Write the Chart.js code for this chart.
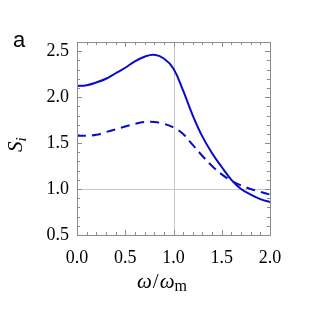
<!DOCTYPE html>
<html><head><meta charset="utf-8">
<script src="https://cdn.jsdelivr.net/npm/chart.js@4.4.0/dist/chart.umd.min.js"></script>
<style>html,body{margin:0;padding:0;background:#fff;}canvas{display:block;}</style>
</head><body>
<canvas id="c" width="313" height="313"></canvas>
<script>
const xValues = [0.0,0.1,0.2,0.3,0.4,0.5,0.6,0.7,0.8,0.9,1.0,1.1,1.2,1.3,1.4,1.5,1.6,1.7,1.8,1.9,2.0];
const solidS = [2.12,2.13,2.16,2.20,2.26,2.32,2.39,2.44,2.46,2.42,2.31,2.07,1.80,1.57,1.39,1.24,1.10,1.00,0.94,0.89,0.86];
const dashedS = [1.58,1.58,1.59,1.62,1.65,1.68,1.71,1.73,1.73,1.71,1.67,1.60,1.48,1.36,1.25,1.16,1.09,1.04,1.00,0.97,0.94];
const xTickLabels = [0.0,0.5,1.0,1.5,2.0];
const yTickLabels = [0.5,1.0,1.5,2.0,2.5];
const gridAt = {x:[1.0], y:[1.0]};

const pts = arr => arr.map((v,i)=>({x:xValues[i], y:v}));
const isMajor = v => Math.abs(v*2 - Math.round(v*2)) < 1e-6;
const tickFont = {family:"'Liberation Serif','Times New Roman',serif", size:18};

const framePlugin = {
  id:'frame',
  beforeDatasetsDraw(chart){
    const {ctx, chartArea:a, scales:{x,y}} = chart;
    ctx.save();
    ctx.strokeStyle = '#c8c8c8'; ctx.lineWidth = 1;
    gridAt.x.forEach(v=>{const p=Math.round(x.getPixelForValue(v))+0.5; ctx.beginPath(); ctx.moveTo(p,a.top); ctx.lineTo(p,a.bottom); ctx.stroke();});
    gridAt.y.forEach(v=>{const p=Math.round(y.getPixelForValue(v))+0.5; ctx.beginPath(); ctx.moveTo(a.left,p); ctx.lineTo(a.right,p); ctx.stroke();});
    ctx.restore();
  },
  afterDraw(chart){
    const {ctx, chartArea:a, scales:{x,y}} = chart;
    ctx.save();
    ctx.strokeStyle = '#8c8c8c'; ctx.lineWidth = 1;
    ctx.strokeRect(Math.round(a.left)+0.5, Math.round(a.top)+0.5, Math.round(a.right-a.left), Math.round(a.bottom-a.top));
    for(let i=0;i<=20;i++){
      const v=i/10, p=Math.round(x.getPixelForValue(v))+0.5, L=isMajor(v)?5:3;
      ctx.beginPath(); ctx.moveTo(p,a.bottom); ctx.lineTo(p,a.bottom-L); ctx.moveTo(p,a.top); ctx.lineTo(p,a.top+L); ctx.stroke();
    }
    for(let i=5;i<=26;i++){
      const v=i/10, p=Math.round(y.getPixelForValue(v))+0.5, L=isMajor(v)?5:3;
      ctx.beginPath(); ctx.moveTo(a.left,p); ctx.lineTo(a.left+L,p); ctx.moveTo(a.right,p); ctx.lineTo(a.right-L,p); ctx.stroke();
    }
    ctx.fillStyle='#000';
    ctx.font = "22px 'Liberation Sans',Arial,sans-serif";
    ctx.textAlign='left'; ctx.textBaseline='alphabetic';
    ctx.fillText('a', 13, 47);
    const f1 = "italic 21px 'Liberation Serif',serif", f2 = "21px 'Liberation Serif',serif", f3 = "16px 'Liberation Serif',serif";
    let xx = 137, by = 288;
    ctx.font=f1; ctx.fillText('ω',xx,by); xx+=ctx.measureText('ω').width+1;
    ctx.font=f2; ctx.fillText('/',xx,by); xx+=ctx.measureText('/').width+1;
    ctx.font=f1; ctx.fillText('ω',xx,by); xx+=ctx.measureText('ω').width;
    ctx.font=f3; ctx.fillText('m',xx,by+3);
    ctx.translate(22,152); ctx.rotate(-Math.PI/2);
    ctx.font="italic 21px 'Liberation Serif',serif"; ctx.fillText('S',0,0);
    const w=ctx.measureText('S').width;
    ctx.font="italic 15px 'Liberation Serif',serif"; ctx.fillText('i',w,4);
    ctx.restore();
  }
};

new Chart(document.getElementById('c'), {
  type:'line',
  data:{datasets:[
    {data:pts(solidS), borderColor:'#0a0acc', borderWidth:2, pointRadius:0, tension:0.4, fill:false},
    {data:pts(dashedS), borderColor:'#0a0acc', borderWidth:2, borderDash:[9,6], pointRadius:0, tension:0.4, fill:false}
  ]},
  options:{
    responsive:false, animation:false, devicePixelRatio:1,
    layout:{padding:{top:42,right:43,left:0,bottom:0}},
    plugins:{legend:{display:false}, tooltip:{enabled:false}},
    scales:{
      x:{type:'linear', min:0, max:2,
        grid:{display:false}, border:{display:false},
        afterFit(s){s.height=78;},
        afterBuildTicks(s){s.ticks = xTickLabels.map(v=>({value:v}));},
        ticks:{font:tickFont, color:'#000', padding:4, maxRotation:0, autoSkip:false,
          callback:v=>Number(v).toFixed(1)}},
      y:{type:'linear', min:0.5, max:2.6,
        grid:{display:false}, border:{display:false},
        afterFit(s){s.width=77;},
        afterBuildTicks(s){s.ticks = yTickLabels.map(v=>({value:v}));},
        ticks:{font:tickFont, color:'#000', padding:0, autoSkip:false,
          callback:v=>Number(v).toFixed(1)}}
    }
  },
  plugins:[framePlugin]
});
</script>
</body></html>
